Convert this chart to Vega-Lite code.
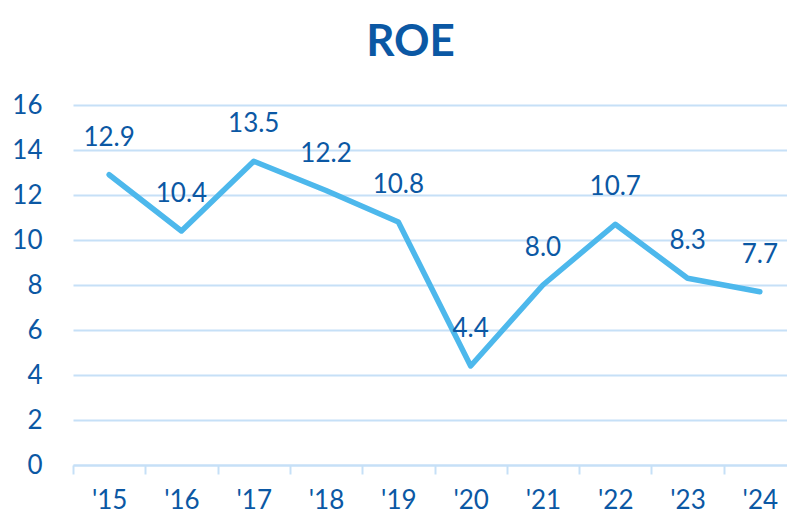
{
  "$schema": "https://vega.github.io/schema/vega-lite/v6.json",
  "autosize": "none",
  "width": 723,
  "height": 360,
  "padding": {"left": 73, "top": 105, "right": 0, "bottom": 53},
  "background": "white",
  "config": {"view": {"stroke": null}, "font": "Lato"},
  "title": {"text": "ROE", "font": "Lato", "fontSize": 44, "fontWeight": "bold", "color": "#0B58A4", "anchor": "middle", "frame": "group", "dx": -24, "offset": -8, "baseline": "alphabetic"},
  "data": {"values": [
    {"year": "'15", "roe": 12.9},
    {"year": "'16", "roe": 10.4},
    {"year": "'17", "roe": 13.5},
    {"year": "'18", "roe": 12.2},
    {"year": "'19", "roe": 10.8},
    {"year": "'20", "roe": 4.4},
    {"year": "'21", "roe": 8.0},
    {"year": "'22", "roe": 10.7},
    {"year": "'23", "roe": 8.3},
    {"year": "'24", "roe": 7.7}
  ]},
  "encoding": {
    "x": {"field": "year", "type": "nominal", "sort": null,
      "scale": {"paddingInner": 0, "paddingOuter": 0},
      "axis": {"title": null, "labelAngle": 0, "labelFont": "Lato", "labelFontSize": 26, "labelColor": "#0B58A4", "labelPadding": 13,
        "domainColor": "#C6E0F7", "domainWidth": 2, "tickColor": "#C6E0F7", "tickWidth": 2, "tickSize": 9, "tickBand": "extent", "grid": false}},
    "y": {"field": "roe", "type": "quantitative",
      "scale": {"domain": [0, 16], "nice": false},
      "axis": {"title": null, "values": [0, 2, 4, 6, 8, 10, 12, 14, 16], "labelFont": "Lato", "labelFontSize": 26, "labelColor": "#0B58A4", "labelPadding": 31,
        "domain": false, "ticks": false, "grid": true, "gridColor": "#C6E0F7", "gridWidth": 2}}
  },
  "layer": [
    {"mark": {"type": "line", "color": "#4DB8EC", "strokeWidth": 5.5, "strokeJoin": "round", "strokeCap": "round"}},
    {"mark": {"type": "text", "dy": -37, "fontSize": 26, "font": "Lato", "color": "#0B58A4", "baseline": "middle"},
      "encoding": {"text": {"field": "roe", "type": "quantitative", "format": ".1f"}}}
  ]
}
